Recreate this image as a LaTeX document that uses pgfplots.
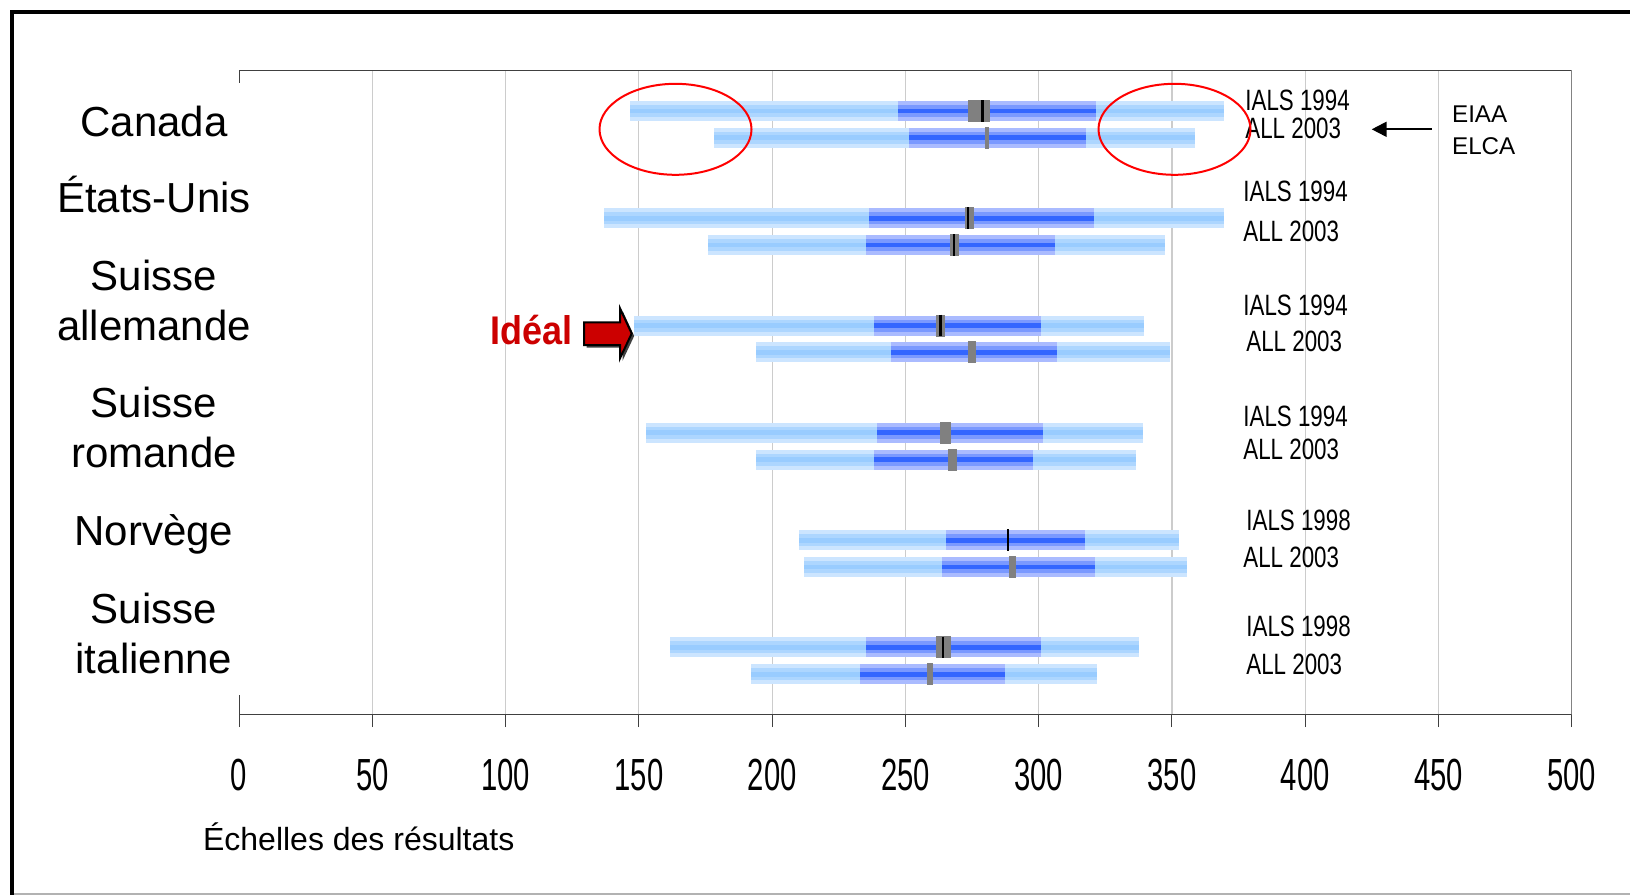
\documentclass[border=0pt]{standalone}
\usepackage{pgfplots}
\pgfplotsset{compat=1.18}
\usepackage{pgfplotstable}
\usepackage{graphicx}
\usepackage{fontspec}
\setmainfont{Liberation Sans}
\usetikzlibrary{arrows.meta}

\definecolor{lightA}{HTML}{CCE5FF}
\definecolor{lightB}{HTML}{ADD6FF}
\definecolor{lightC}{HTML}{99CCFF}
\definecolor{darkA}{HTML}{AABBFF}
\definecolor{darkB}{HTML}{7A99FF}
\definecolor{darkC}{HTML}{3366FF}
\definecolor{meangray}{HTML}{808080}
\definecolor{gridgray}{HTML}{CCCCCC}
\definecolor{axisgray}{HTML}{404040}
\definecolor{idealred}{HTML}{CC0000}

\newcommand\cond[1]{\scalebox{0.65}[1]{#1}}
\newcommand\condb[1]{\scalebox{0.76}[1]{#1}}

% y: row position (6 = top); p5 p25 p75 p95 percentiles; mlo mhi = mean interval; mline = mean line
\pgfplotstableread{
y     p5    p25   p75   p95   mlo   mhi   mline
5.625 146.8 247.1 321.6 369.4 273.6 281.7 278.9
5.375 178.3 251.2 317.6 358.8 279.7 281.4 nan
4.625 137.1 236.5 320.6 369.4 272.2 275.6 273.5
4.375 176.1 235.3 306.0 347.3 266.8 270.0 268.3
3.625 148.0 238.3 300.7 339.7 261.4 264.9 263.1
3.375 194.1 244.7 307.0 349.3 273.3 276.5 nan
2.625 152.8 239.5 301.8 339.0 262.8 267.0 nan
2.375 194.1 238.3 297.7 336.7 265.8 269.2 nan
1.625 209.9 265.1 317.5 352.6 288.4 288.4 288.4
1.375 212.1 263.9 321.1 355.7 289.0 291.4 nan
0.625 161.5 235.4 300.8 337.8 261.5 267.1 264.1
0.375 192.0 233.0 287.3 322.0 258.0 260.3 nan
}\ranges

\pgfplotsset{
  outerseg/.style 2 args={draw=none, mark=none, forget plot,
    error bars/.cd, x dir=both, x explicit, error mark=none,
    error bar style={draw=#1, line width=#2}},
}

\begin{document}
\begin{tikzpicture}
\useasboundingbox (0,0) rectangle (815pt,-447.5pt);
\begin{axis}[
  at={(119.55pt,-357.25pt)}, anchor=south west,
  width=666.3pt, height=321.9pt, scale only axis,
  xmin=0, xmax=500, ymin=0, ymax=6, enlargelimits=false,
  axis line style={draw=none},
  ytick=\empty,
  xtick={0,50,...,500},
  xticklabels={\cond{0},\cond{50},\cond{100},\cond{150},\cond{200},\cond{250},\cond{300},\cond{350},\cond{400},\cond{450},\cond{500}},
  xtick pos=bottom, tick align=outside,
  major tick length=6.3pt,
  tick style={axisgray, line width=0.5pt},
  xticklabel style={font=\fontsize{22.5}{26}\selectfont, inner sep=0pt, yshift=-16pt},
]
% gridlines
\pgfplotsinvokeforeach{50,100,...,450}{
  \draw[gridgray, line width=0.6pt] (axis cs:#1,0) -- (axis cs:#1,6);
}
% 5th-95th percentile
\addplot[outerseg={lightA}{10pt}] table[x expr={(\thisrow{p5}+\thisrow{p95})/2}, y=y, x error expr={(\thisrow{p95}-\thisrow{p5})/2}] {\ranges};
\addplot[outerseg={lightB}{6pt}] table[x expr={(\thisrow{p5}+\thisrow{p95})/2}, y=y, x error expr={(\thisrow{p95}-\thisrow{p5})/2}] {\ranges};
\addplot[outerseg={lightC}{2.4pt}] table[x expr={(\thisrow{p5}+\thisrow{p95})/2}, y=y, x error expr={(\thisrow{p95}-\thisrow{p5})/2}] {\ranges};
% 25th-75th percentile
\addplot[outerseg={darkA}{10pt}] table[x expr={(\thisrow{p25}+\thisrow{p75})/2}, y=y, x error expr={(\thisrow{p75}-\thisrow{p25})/2}] {\ranges};
\addplot[outerseg={darkB}{6pt}] table[x expr={(\thisrow{p25}+\thisrow{p75})/2}, y=y, x error expr={(\thisrow{p75}-\thisrow{p25})/2}] {\ranges};
\addplot[outerseg={darkC}{2.4pt}] table[x expr={(\thisrow{p25}+\thisrow{p75})/2}, y=y, x error expr={(\thisrow{p75}-\thisrow{p25})/2}] {\ranges};
% mean with confidence interval
\addplot[outerseg={meangray}{11pt}] table[x expr={(\thisrow{mlo}+\thisrow{mhi})/2}, y=y, x error expr={(\thisrow{mhi}-\thisrow{mlo})/2}] {\ranges};
\addplot[only marks, forget plot, mark=|, mark size=5.4pt, mark options={draw=black, line width=1.2pt}] table[x=mline, y=y] {\ranges};
% axis box parts
\draw[axisgray, line width=1pt] (axis cs:0,0) -- (axis cs:500,0);
\draw[axisgray, line width=0.75pt] (axis cs:500,0) -- (axis cs:500,6) -- (axis cs:0,6) -- ++(0,-6.3pt);
\draw[axisgray, line width=0.5pt] (axis cs:0,0) -- ++(0,10pt);
\end{axis}

\begin{scope}[x=0.5pt,y=-0.5pt]
% frame
\draw[black, line width=2.3pt] (12,1000) -- (12,12) -- (1700,12);
\draw[black!30, line width=0.8pt] (14,893.8) -- (1700,893.8);
% country labels
\begin{scope}[every node/.style={anchor=base, inner sep=0pt, font=\fontsize{21}{25}\selectfont}]
\node at (153.9,136.6) {Canada};
\node at (153.9,212.5) {États-Unis};
\node at (153.9,290.5) {Suisse};
\node at (153.9,340.4) {allemande};
\node at (153.9,417.3) {Suisse};
\node at (153.9,467.2) {romande};
\node at (153.9,545.1) {Norvège};
\node at (153.9,623.1) {Suisse};
\node at (153.9,673.0) {italienne};
\end{scope}
% survey labels
\begin{scope}[every node/.style={anchor=base west, inner sep=0pt, font=\fontsize{14.7}{17}\selectfont}]
\node at (1245,110.8) {\condb{IALS 1994}};
\node at (1245,138.5) {\condb{ALL 2003}};
\node at (1243,201.8) {\condb{IALS 1994}};
\node at (1243,241.7) {\condb{ALL 2003}};
\node at (1243,315.1) {\condb{IALS 1994}};
\node at (1246,351.5) {\condb{ALL 2003}};
\node at (1243,426.3) {\condb{IALS 1994}};
\node at (1243,459.5) {\condb{ALL 2003}};
\node at (1246,530.3) {\condb{IALS 1998}};
\node at (1243,567.7) {\condb{ALL 2003}};
\node at (1246,636.3) {\condb{IALS 1998}};
\node at (1246,674.7) {\condb{ALL 2003}};
\end{scope}
% EIAA / ELCA
\draw[black, line width=1pt, -{Triangle[length=7.5pt, width=7.5pt]}] (1431.7,129.3) -- (1371.7,129.3);
\node[anchor=base west, inner sep=0pt, font=\fontsize{12.1}{14}\selectfont] at (1451.7,122.3) {EIAA};
\node[anchor=base west, inner sep=0pt, font=\fontsize{12.1}{14}\selectfont] at (1451.7,154) {ELCA};
% red ellipses
\draw[red, line width=1pt] (675.5,129.3) ellipse [x radius=38pt, y radius=22.75pt];
\draw[red, line width=1pt] (1174.5,129.3) ellipse [x radius=38pt, y radius=22.75pt];
% Idéal arrow
\node[anchor=base west, inner sep=0pt, font=\bfseries\fontsize{20}{24}\selectfont, text=idealred] at (489.6,344) {\scalebox{0.9}[1]{Idéal}};
\fill[black!75] (586.5,324.8) -- (622.5,324.8) -- (622.5,310.8) -- (634.2,336) -- (622.5,360.8) -- (622.5,347.5) -- (586.5,347.5) -- cycle;
\filldraw[fill=idealred, draw=black, line width=1pt] (584,322.3) -- (620,322.3) -- (620,308.3) -- (631.7,333.5) -- (620,358.3) -- (620,345) -- (584,345) -- cycle;
% x axis title
\node[anchor=base west, inner sep=0pt, font=\fontsize{16}{19}\selectfont] at (202.7,850) {Échelles des résultats};
\end{scope}
\end{tikzpicture}
\end{document}
